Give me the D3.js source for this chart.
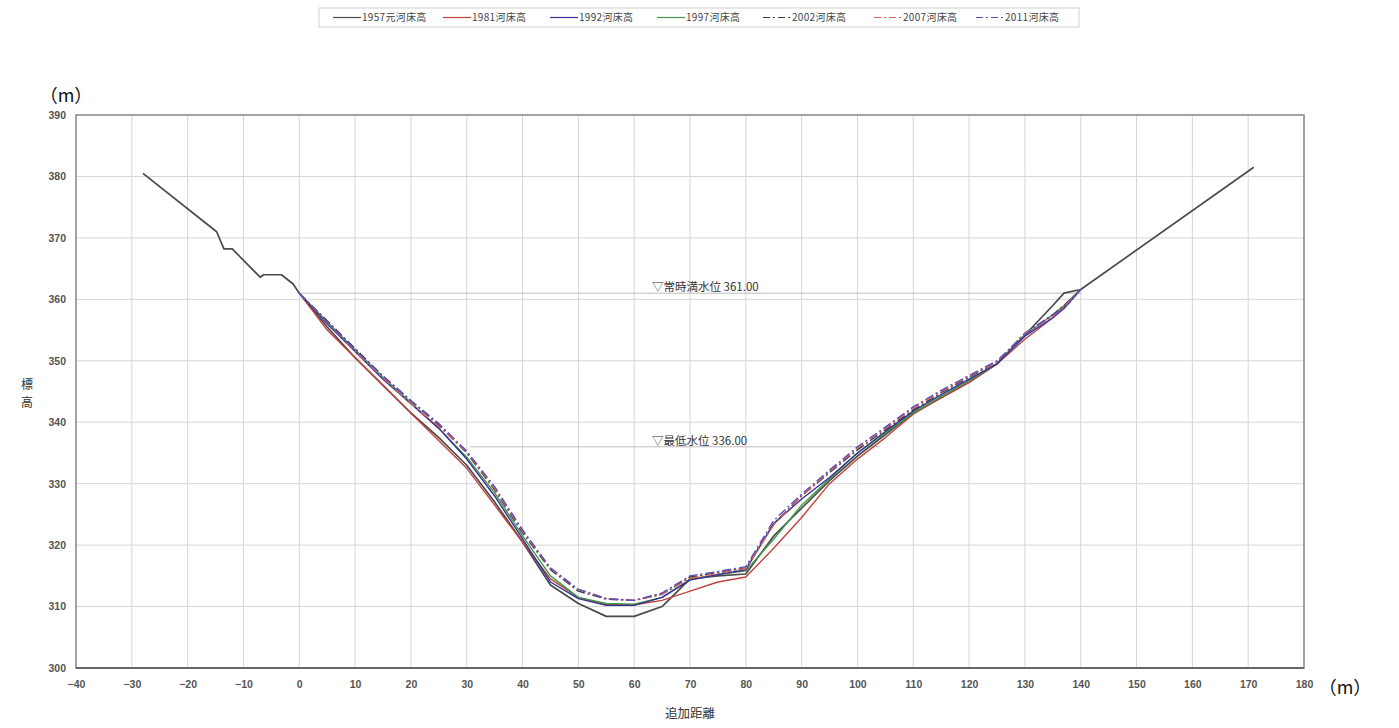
<!DOCTYPE html>
<html>
<head>
<meta charset="utf-8">
<script src="https://cdn.jsdelivr.net/npm/d3@7"></script>
<style>
  html, body { margin: 0; padding: 0; background: #fff; }
  svg { display: block; font-family: "Noto Sans CJK JP", "Noto Sans", sans-serif; }
</style>
</head>
<body>
<svg id="chart" width="1399" height="728"></svg>
<script>
// Survey stations (additional distance, m) shared by all cross-section surveys
const stations = [0, 5, 10, 15, 20, 25, 30, 35, 40, 45, 50, 55, 60, 65, 70, 75, 80, 85, 90, 95, 100, 105, 110, 115, 120, 125, 130, 135, 137, 140];

// Riverbed elevation (m) per survey year
const bed1957 = [361.0, 355.5, 350.5, 346.0, 341.5, 337.5, 333.0, 327.0, 320.5, 313.5, 310.5, 308.4, 308.4, 310.0, 314.5, 315.0, 315.3, 321.5, 326.0, 330.5, 334.5, 338.0, 341.5, 344.0, 346.5, 349.5, 354.2, 359.0, 361.0, 361.6];
const bed1981 = [361.0, 355.0, 350.5, 346.0, 341.5, 337.0, 332.5, 326.5, 320.5, 314.5, 311.5, 310.3, 310.3, 311.0, 312.5, 314.0, 314.8, 319.5, 324.5, 330.0, 334.0, 337.5, 341.3, 344.0, 346.5, 349.5, 353.5, 357.0, 358.8, 361.6];
const bed1992 = [361.0, 356.0, 351.5, 347.0, 343.0, 339.0, 334.0, 328.0, 321.0, 314.0, 311.3, 310.2, 310.2, 311.5, 314.3, 315.2, 316.0, 323.5, 327.5, 331.0, 335.0, 338.5, 341.8, 344.5, 347.0, 349.5, 354.0, 357.0, 358.5, 361.6];
const bed1997 = [361.0, 356.3, 351.8, 347.3, 343.2, 339.0, 334.3, 328.5, 321.5, 315.0, 311.5, 310.5, 310.4, 311.5, 314.4, 315.2, 315.8, 321.0, 326.5, 330.8, 335.0, 338.3, 341.5, 344.2, 346.8, 349.5, 354.2, 357.5, 359.0, 361.6];
const bed2002 = [361.0, 356.5, 352.0, 347.5, 343.5, 339.5, 335.0, 329.0, 322.0, 316.0, 312.5, 311.2, 311.0, 312.0, 314.8, 315.5, 316.3, 323.5, 328.0, 331.8, 335.5, 338.8, 342.0, 344.8, 347.3, 349.8, 354.5, 357.5, 359.0, 361.6];
const bed2007 = [361.0, 356.2, 351.6, 347.2, 343.0, 339.3, 335.2, 329.2, 322.3, 316.2, 312.8, 311.3, 311.0, 312.0, 314.6, 315.4, 316.2, 323.3, 328.0, 332.0, 335.8, 339.0, 342.3, 345.0, 347.5, 349.8, 354.5, 357.2, 358.8, 361.6];
const bed2011 = [361.0, 356.3, 351.8, 347.5, 343.5, 339.8, 335.3, 329.5, 322.5, 316.3, 312.8, 311.3, 311.0, 312.2, 315.0, 315.7, 316.5, 324.0, 328.3, 332.2, 336.0, 339.2, 342.5, 345.2, 347.6, 350.0, 354.3, 357.5, 358.5, 361.6];

// Original 1957 ground profile beyond the surveyed channel (banks)
const bankLeftX = [-28.0, -14.8, -13.5, -12.0, -7.0, -6.4, -3.2, -1.1];
const bankLeftY = [380.5, 371.0, 368.2, 368.2, 363.6, 364.0, 364.0, 362.5];
const bankRightX = [171.0];
const bankRightY = [381.5];

const seriesNames = ["1957元河床高", "1981河床高", "1992河床高", "1997河床高", "2002河床高", "2007河床高", "2011河床高"];
const seriesValues = [bed1957, bed1981, bed1992, bed1997, bed2002, bed2007, bed2011];
const seriesColors = ["#4a4a4a", "#c0443c", "#34309a", "#3f9a45", "#3a3a3a", "#e0605a", "#5a50c0"];
const seriesDash = [null, null, null, null, "9,3,2,3", "9,3,2,3", "9,3,2,3"];

// Reference water levels
const levelNames = ["常時満水位", "最低水位"];
const levelValues = [361.0, 336.0];
const levelFrom = [0, 30.6];
const levelTo = [140, 104];

const xTicks = d3.range(-40, 181, 10);
const yTicks = d3.range(300, 391, 10);

const svg = d3.select("#chart");

const x = d3.scaleLinear().domain([-40, 180]).range([76, 1304]);
const y = d3.scaleLinear().domain([300, 390]).range([668, 115]);

// Grid
const grid = svg.append("g");
grid.selectAll(".gx").data(xTicks).join("line")
  .attr("x1", d => x(d)).attr("x2", d => x(d))
  .attr("y1", y(390)).attr("y2", y(300))
  .attr("stroke", "#d6d6d6").attr("stroke-width", 1);
grid.selectAll(".gy").data(yTicks).join("line")
  .attr("x1", x(-40)).attr("x2", x(180))
  .attr("y1", d => y(d)).attr("y2", d => y(d))
  .attr("stroke", "#d6d6d6").attr("stroke-width", 1);

// Axes
const xAxis = d3.axisBottom(x).tickValues(xTicks).tickSize(0).tickPadding(13).tickFormat(d3.format("d"));
const yAxis = d3.axisLeft(y).tickValues(yTicks).tickSize(0).tickPadding(10).tickFormat(d3.format("d"));
const gx = svg.append("g").attr("transform", `translate(0,${y(300)})`).call(xAxis);
const gy = svg.append("g").attr("transform", `translate(${x(-40)},0)`).call(yAxis);
[gx, gy].forEach(g => {
  g.select(".domain").remove();
  g.selectAll("text").attr("fill", "#555").attr("font-size", 10.5).attr("font-weight", "bold")
    .attr("font-family", "Liberation Sans, Arial, sans-serif");
});

// Plot frame
svg.append("rect")
  .attr("x", x(-40)).attr("y", y(390))
  .attr("width", x(180) - x(-40)).attr("height", y(300) - y(390))
  .attr("fill", "none").attr("stroke", "#8a8a8a").attr("stroke-width", 1.5);
svg.append("line")
  .attr("x1", x(-40)).attr("x2", x(180)).attr("y1", y(300)).attr("y2", y(300))
  .attr("stroke", "#666").attr("stroke-width", 2);

// Water level lines and labels
levelValues.forEach((v, i) => {
  svg.append("line")
    .attr("x1", x(levelFrom[i])).attr("x2", x(levelTo[i]))
    .attr("y1", y(v)).attr("y2", y(v))
    .attr("stroke", "#bdbdbd").attr("stroke-width", 1);
  svg.append("text")
    .attr("x", 652).attr("y", y(v) - 2)
    .attr("font-size", 11.5).attr("fill", "#333")
    .text(`▽${levelNames[i]} ${v.toFixed(2)}`);
});

// Bed profiles
const line = d3.line().x(d => x(d[0])).y(d => y(d[1]));
const drawOrder = [0, 1, 3, 2, 4, 5, 6];
drawOrder.forEach(i => {
  let pts = stations.map((s, k) => [s, seriesValues[i][k]]);
  if (i === 0) {
    pts = bankLeftX.map((s, k) => [s, bankLeftY[k]])
      .concat(pts)
      .concat(bankRightX.map((s, k) => [s, bankRightY[k]]));
  }
  svg.append("path")
    .datum(pts)
    .attr("d", line)
    .attr("fill", "none")
    .attr("stroke", seriesColors[i])
    .attr("stroke-width", i === 0 ? 1.7 : 1.4)
    .attr("stroke-dasharray", seriesDash[i])
    .attr("stroke-linejoin", "round");
});

// Axis titles and units
svg.append("text").attr("x", 66).attr("y", 102).attr("text-anchor", "middle")
  .attr("font-size", 18).attr("fill", "#111").text("（m）");
svg.append("text").attr("x", 1345).attr("y", 694).attr("text-anchor", "middle")
  .attr("font-size", 18).attr("fill", "#111").text("（m）");
svg.append("text").attr("x", x(70)).attr("y", 718).attr("text-anchor", "middle")
  .attr("font-size", 12.5).attr("fill", "#333").text("追加距離");
const yt = svg.append("text").attr("text-anchor", "middle")
  .attr("font-size", 12).attr("fill", "#333");
yt.append("tspan").attr("x", 27).attr("y", 389).text("標");
yt.append("tspan").attr("x", 27).attr("y", 407).text("高");

// Legend
const legend = svg.append("g");
legend.append("rect").attr("x", 319).attr("y", 8).attr("width", 760).attr("height", 19)
  .attr("fill", "#fff").attr("stroke", "#cfcfcf").attr("stroke-width", 1);
const legendStart = [333, 443, 550, 657, 763, 874, 976];
seriesNames.forEach((name, i) => {
  const lx = legendStart[i];
  legend.append("line")
    .attr("x1", lx).attr("x2", lx + 28).attr("y1", 17.5).attr("y2", 17.5)
    .attr("stroke", seriesColors[i]).attr("stroke-width", 1.2)
    .attr("stroke-dasharray", seriesDash[i] ? "7,3,2,3" : null);
  legend.append("text")
    .attr("x", lx + 29).attr("y", 21)
    .attr("font-size", 10).attr("letter-spacing", 0.3).attr("fill", "#444")
    .text(name);
});
</script>
</body>
</html>
